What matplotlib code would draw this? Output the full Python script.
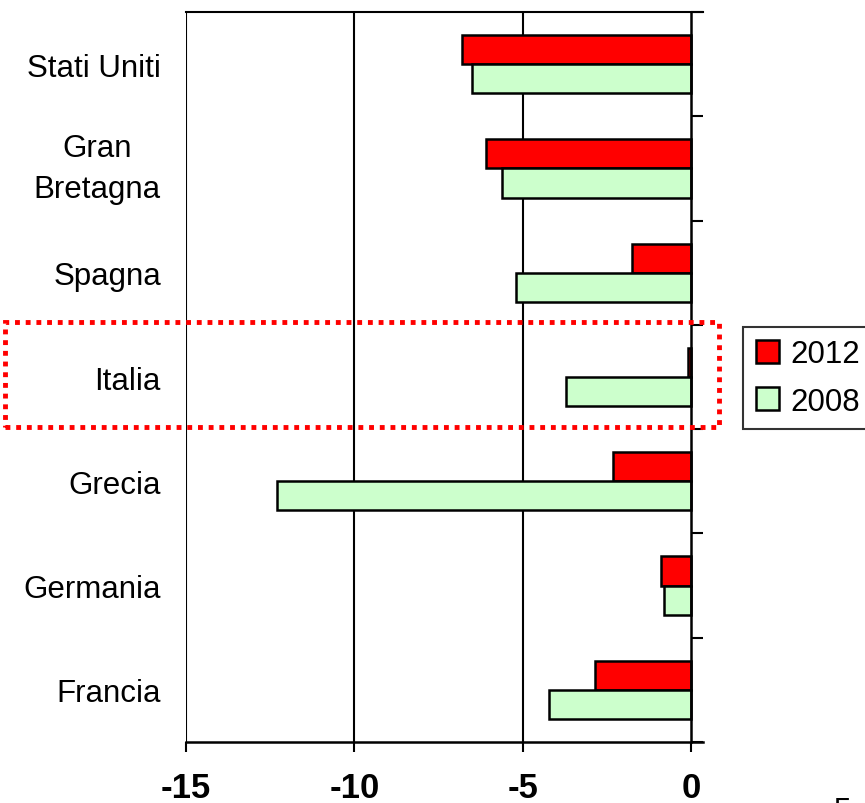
import numpy as np
import matplotlib
matplotlib.use('Agg')
import matplotlib.pyplot as plt
from matplotlib.patches import Rectangle
from matplotlib.ticker import FixedLocator
from matplotlib.transforms import blended_transform_factory

# Saldo di bilancio (% PIL), 2012 vs 2008
paesi = ['Stati Uniti', 'Gran\nBretagna', 'Spagna', 'Italia', 'Grecia', 'Germania', 'Francia']
valori_2012 = [-6.8, -6.1, -1.75, -0.1, -2.3, -0.9, -2.85]
valori_2008 = [-6.5, -5.6, -5.2, -3.7, -12.3, -0.8, -4.2]
ticks_x = [-15, -10, -5, 0]

plt.rcParams['font.family'] = ['Liberation Sans', 'DejaVu Sans']

fig = plt.figure(figsize=(8.65, 8.04), dpi=100)
ax = fig.add_axes([0.215, 0.0759, 0.5977, 0.9079])

y = np.arange(len(paesi))
h = 0.28
ax.barh(y - h / 2, valori_2012, height=h, color='#ff0000', edgecolor='black',
        linewidth=1.8, label='2012', zorder=3)
ax.barh(y + h / 2, valori_2008, height=h, color='#ccffcc', edgecolor='black',
        linewidth=1.8, label='2008', zorder=3)

ax.set_xlim(-15, 0.36)
ax.set_ylim(len(paesi) - 0.5, -0.5)

# griglia verticale
for v in ticks_x[:-1]:
    ax.axvline(v, color='black', linewidth=1.5, zorder=1)

# assi
ax.spines['left'].set_visible(False)
ax.spines['right'].set_position(('data', 0))
ax.spines['right'].set_linewidth(1.8)
ax.spines['top'].set_linewidth(1.5)
ax.spines['bottom'].set_linewidth(1.8)
ax.spines['right'].set_zorder(4)

ax.set_xticks(ticks_x)
ax.set_xticklabels([str(t) for t in ticks_x], fontsize=25, fontweight='bold')
ax.tick_params(axis='x', direction='out', length=7, width=1.5, pad=14)

ax.set_yticks(y)
ax.set_yticklabels(paesi, fontsize=22.5, linespacing=1.5)
for lab in ax.get_yticklabels():
    lab.set_multialignment('center')
    if '\n' in lab.get_text():
        lab.set_va('center')
ax.yaxis.set_minor_locator(FixedLocator(np.arange(len(paesi) + 1) - 0.5))
ax.tick_params(axis='y', which='major', length=0, pad=18, left=False, right=False,
               labelleft=True, labelright=False)
ax.tick_params(axis='y', which='minor', left=False, right=True, direction='out',
               length=8.5, width=1.5)

# riquadro tratteggiato sull'Italia
idx = paesi.index('Italia')
tr = blended_transform_factory(fig.transFigure, ax.transData)
box = Rectangle((5 / 865, idx + 0.48), 719 / 865 - 5 / 865, -1.01, transform=tr,
                fill=False, edgecolor='#ff0000', linewidth=3.5,
                linestyle=(0, (1, 1.2)), clip_on=False, zorder=6)
fig.add_artist(box)

leg = fig.legend(loc='upper left', bbox_to_anchor=(743 / 865, 1 - 328 / 804),
                 borderaxespad=0, fontsize=22.5, frameon=True, fancybox=False,
                 edgecolor='black', handlelength=0.75, handleheight=0.75,
                 handletextpad=0.35, labelspacing=0.55, borderpad=0.4)
leg.get_frame().set_linewidth(1.5)

fig.text(834 / 865, 1 - 797 / 804, '5', fontsize=22.5, va='top', ha='left')

fig.savefig('out.png', dpi=100)
